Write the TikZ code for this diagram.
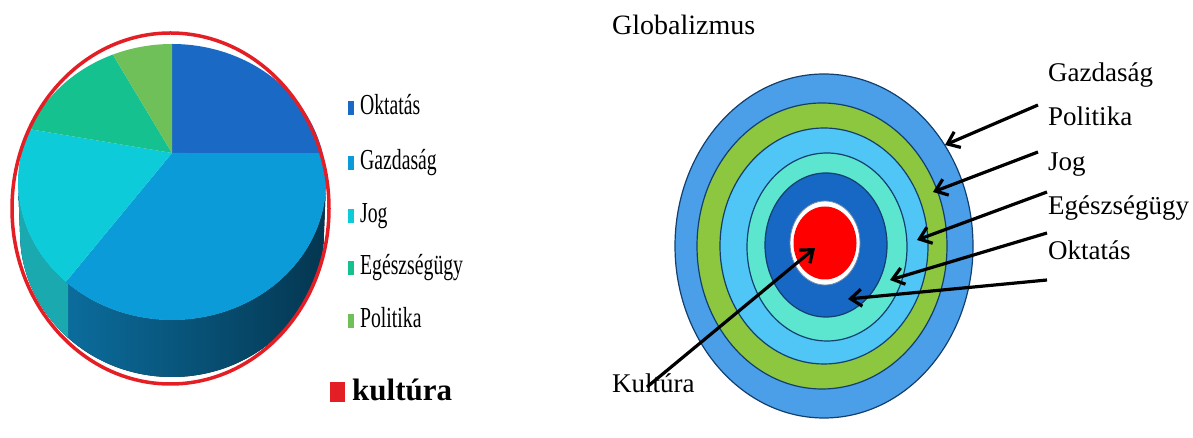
\documentclass[tikz,border=0pt]{standalone}
\usepackage{fontspec}
\setmainfont{Liberation Serif}
\usetikzlibrary{arrows.meta}
\begin{document}
\begin{tikzpicture}[x=1pt, y=1pt,
    ring/.style={draw=Rline, line width=1.2},
    arr/.style={line width=3.2, -{Straight Barb[length=11pt, width=17pt, line width=3.2pt]}},
    lbl/.style={anchor=base west, inner sep=0, font=\fontsize{27}{29}\selectfont},
    leg/.style={anchor=base west, inner sep=0, xscale=0.68, font=\fontsize{29}{31}\selectfont}]
    \useasboundingbox (0,0) rectangle (1193,438);
    \definecolor{Cokt}{RGB}{26,106,197}
    \definecolor{Cgaz}{RGB}{10,155,216}
    \definecolor{Cjog}{RGB}{13,203,216}
    \definecolor{Cege}{RGB}{21,194,143}
    \definecolor{Cpol}{RGB}{112,192,90}
    \definecolor{Cjogside}{RGB}{27,169,176}
    \definecolor{Cgazleft}{RGB}{13,119,171}
    \definecolor{Cgazright}{RGB}{4,54,80}
    \definecolor{Ckul}{RGB}{228,30,37}
    \definecolor{Rgaz}{RGB}{74,159,232}
    \definecolor{Rpol}{RGB}{141,198,63}
    \definecolor{Rjog}{RGB}{79,198,245}
    \definecolor{Rege}{RGB}{92,230,207}
    \definecolor{Rokt}{RGB}{23,103,196}
    \definecolor{Rline}{RGB}{18,63,110}
    \def\rx{154}
    \def\ry{138}
    \coordinate (C) at (172,256);
    \coordinate (V) at (172,285);
    % pie side
    \fill[left color=Cgazleft, right color=Cgazright] (18,256) arc[start angle=180, end angle=360, x radius=\rx, y radius=\ry] -- (324,206) arc[start angle=0, end angle=-180, x radius=152, y radius=145] -- cycle;
    \begin{scope}
        \clip (0,0) rectangle (68,438);
        \fill[Cjogside] (18,256) arc[start angle=180, end angle=360, x radius=\rx, y radius=\ry] -- (324,206) arc[start angle=0, end angle=-180, x radius=152, y radius=145] -- cycle;
    \end{scope}
    % pie top
    \fill[Cokt] (V) -- ([shift={(C)}]90:154 and 138) arc[start angle=90, end angle=12.1, x radius=\rx, y radius=\ry] -- cycle;
    \fill[Cgaz] (V) -- ([shift={(C)}]12.1:154 and 138) arc[start angle=12.1, end angle=-133.6, x radius=\rx, y radius=\ry] -- cycle;
    \fill[Cjog] (V) -- ([shift={(C)}]226.4:154 and 138) arc[start angle=226.4, end angle=157.5, x radius=\rx, y radius=\ry] -- cycle;
    \fill[Cege] (V) -- ([shift={(C)}]157.5:154 and 138) arc[start angle=157.5, end angle=112.6, x radius=\rx, y radius=\ry] -- cycle;
    \fill[Cpol] (V) -- ([shift={(C)}]112.6:154 and 138) arc[start angle=112.6, end angle=90, x radius=\rx, y radius=\ry] -- cycle;
    \draw[Ckul, line width=3.5] (170.5,229.5) ellipse[x radius=158.5, y radius=175.5];
    % legend
    \foreach \lab/\col/\yy [count=\i] in {Oktatás/Cokt/323, Gazdaság/Cgaz/268, Jog/Cjog/215, Egészségügy/Cege/163, Politika/Cpol/110} {
        \fill[\col] (348,\yy) rectangle ++(6,14);
        \node[leg] (leg\i) at (360,\yy) {\lab};
    }
    \fill[Ckul] (330,36) rectangle (345,56);
    \node[anchor=base west, inner sep=0, font=\bfseries\fontsize{31}{33}\selectfont] (kultura) at (352,37) {kultúra};
    % rings
    \filldraw[ring, fill=Rgaz] (824,192) ellipse[x radius=149, y radius=172];
    \filldraw[ring, fill=Rpol] (822,192) ellipse[x radius=125, y radius=143];
    \filldraw[ring, fill=Rjog] (824,192) ellipse[x radius=104, y radius=118];
    \filldraw[ring, fill=Rege] (827,191) ellipse[x radius=80, y radius=94];
    \filldraw[ring, fill=Rokt] (826,193) ellipse[x radius=61, y radius=72];
    \filldraw[draw=Rline!60, line width=0.8, fill=white] (825,195) ellipse[x radius=35, y radius=42];
    \fill[red] (825,195) ellipse[x radius=31.5, y radius=36.5];
    % labels
    \node[lbl, font=\fontsize{28}{30}\selectfont] (glob) at (612,403) {Globalizmus};
    \node[lbl] (gaz) at (1048,356.5) {Gazdaság};
    \node[lbl] (pol) at (1048,312) {Politika};
    \node[lbl] (jog) at (1048,267.5) {Jog};
    \node[lbl] (ege) at (1048,223) {Egészségügy};
    \node[lbl] (okt) at (1048,178.5) {Oktatás};
    \node[lbl] (kul) at (612,45) {Kultúra};
    % arrows
    \coordinate (t1) at (1038,333);
    \coordinate (h1) at (945,293);
    \coordinate (t2) at (1038,286);
    \coordinate (h2) at (933,246);
    \coordinate (t3) at (1047,246);
    \coordinate (h3) at (917,198);
    \coordinate (t4) at (1047,205);
    \coordinate (h4) at (890,158);
    \coordinate (t5) at (1047,158);
    \coordinate (h5) at (848,139);
    \coordinate (t6) at (647,51);
    \coordinate (h6) at (815,190);
    \foreach \i in {1,...,6} {
        \draw[arr] (t\i) -- (h\i);
    }
\end{tikzpicture}
\end{document}
